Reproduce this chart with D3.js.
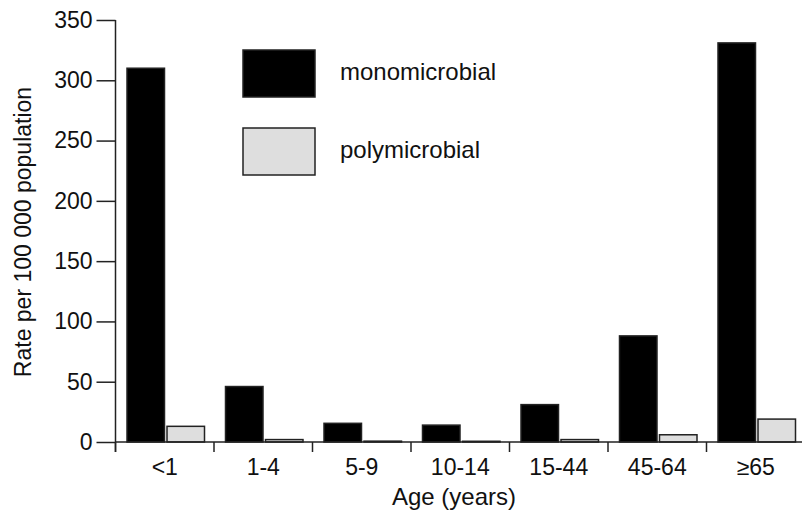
<!DOCTYPE html>
<html><head><meta charset="utf-8">
<script src="https://cdn.jsdelivr.net/npm/d3@7"></script>
<style>
html,body{margin:0;padding:0;background:#fff;}
text{font-family:"Liberation Sans",Arial,Helvetica,sans-serif;fill:#111;}
</style></head>
<body><svg id="c" width="802" height="517"></svg>
<script>
const categories = ["<1","1-4","5-9","10-14","15-44","45-64","\u226565"];
const monomicrobial = [310, 46, 15.5, 14, 31, 88, 331];
const polymicrobial = [13, 2, 0.7, 0.6, 2, 6, 19];
const yTicks = [0,50,100,150,200,250,300,350];
const seriesNames = ["monomicrobial","polymicrobial"];
const seriesColors = ["#000000","#dedede"];

const svg = d3.select("#c");
const x0 = 115.5, bandW = 98.5;
const x = d3.scaleBand().domain(categories).range([x0, x0 + bandW*categories.length]).paddingInner(0).paddingOuter(0);
const y = d3.scaleLinear().domain([0,350]).range([442,20]);
const FF = "Liberation Sans, Arial, sans-serif";

// bars
const barW = 37.5, off1 = 11.5, off2 = 51.5;
const g = svg.append("g");
categories.forEach((c,i)=>{
  g.append("rect").attr("x", x(c)+off1).attr("y", y(monomicrobial[i]))
    .attr("width", barW).attr("height", y(0)-y(monomicrobial[i]))
    .attr("fill", seriesColors[0]).attr("stroke","#222").attr("stroke-width",1.5);
  g.append("rect").attr("x", x(c)+off2).attr("y", y(polymicrobial[i]))
    .attr("width", barW).attr("height", y(0)-y(polymicrobial[i]))
    .attr("fill", seriesColors[1]).attr("stroke","#222").attr("stroke-width",1.5);
});

// y axis
const ya = svg.append("g").attr("transform",`translate(${x0},0)`)
  .call(d3.axisLeft(y).tickValues(yTicks).tickSize(19).tickPadding(4).tickFormat(d3.format("d")));
ya.select(".domain").attr("d", `M0,${y(350)}V452`).attr("stroke","#222").attr("stroke-width",1.5);
ya.selectAll(".tick line").attr("stroke","#222").attr("stroke-width",1.5);
ya.selectAll(".tick text").attr("font-size",23).attr("font-family",FF).attr("fill","#111");

// x axis
const xa = svg.append("g").attr("transform",`translate(0,${y(0)})`)
  .call(d3.axisBottom(x).tickSize(0).tickPadding(17));
xa.select(".domain").attr("d", `M${x0},0H802`).attr("stroke","#222").attr("stroke-width",1.5);
xa.selectAll(".tick text").attr("font-size",23).attr("font-family",FF).attr("fill","#111");
// boundary ticks
const bounds = categories.map(c=>x(c));
xa.selectAll("line.bt").data(bounds).enter().append("line").attr("class","bt")
  .attr("x1",d=>d).attr("x2",d=>d).attr("y1",0).attr("y2",10)
  .attr("stroke","#222").attr("stroke-width",1.5);

// axis titles
svg.append("text").attr("transform","translate(31,232) rotate(-90)")
  .attr("text-anchor","middle").attr("font-size",23).text("Rate per 100 000 population");
svg.append("text").attr("x",454).attr("y",505).attr("text-anchor","middle")
  .attr("font-size",24).text("Age (years)");

// legend
const leg = svg.append("g");
seriesNames.forEach((n,i)=>{
  const yy = 50 + i*78;
  leg.append("rect").attr("x",243).attr("y",yy).attr("width",72).attr("height",47)
    .attr("fill",seriesColors[i]).attr("stroke","#222").attr("stroke-width",1.5);
  leg.append("text").attr("x",340).attr("y",yy+30).attr("font-size",24).text(n);
});
</script></body></html>
